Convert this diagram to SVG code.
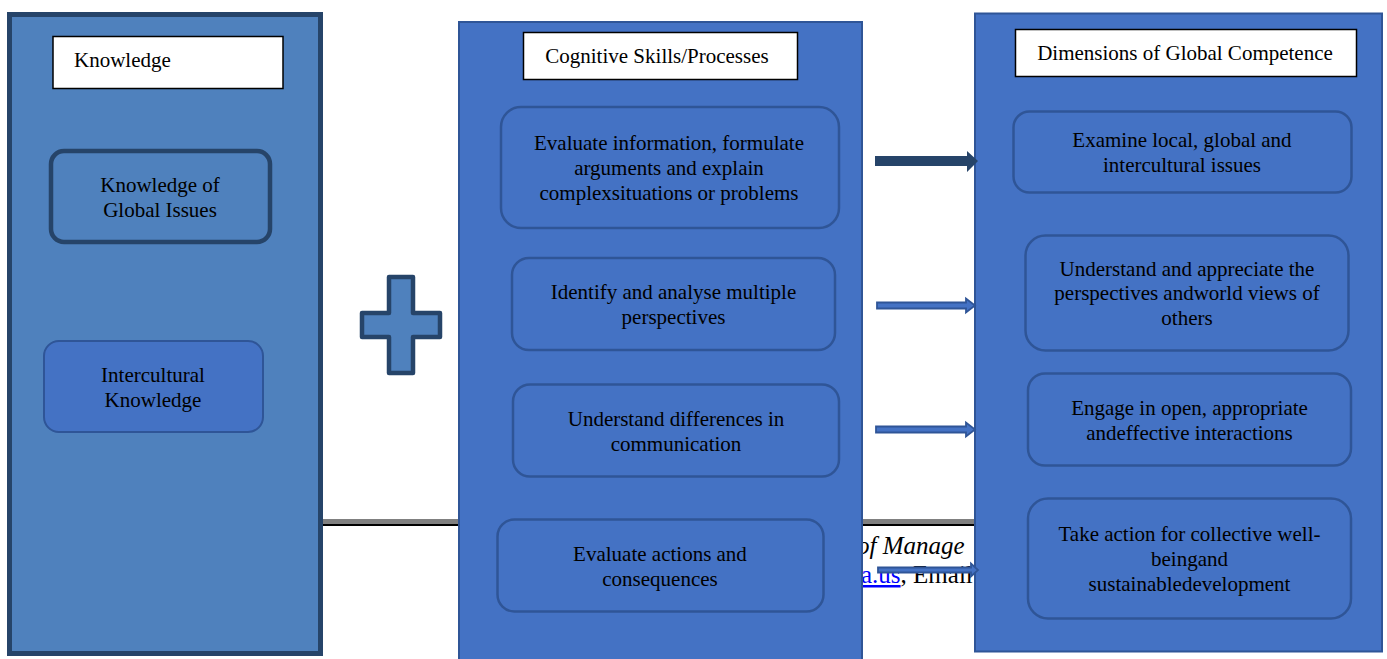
<svg xmlns="http://www.w3.org/2000/svg" width="1387" height="659" viewBox="0 0 1387 659">
<style>
text{font-family:"Liberation Serif","Times New Roman",serif;font-size:21px;fill:#000;}
.c{text-anchor:middle;}
.panel{fill:#4472c4;stroke:#2f5597;stroke-width:2;}
.box{fill:#4472c4;stroke:#2f5597;stroke-width:2.5;}
.hdr{fill:#fff;stroke:#000;stroke-width:1.5;}
.bg{font-size:25px;}
.thin{fill:#4472c4;stroke:#2f5597;stroke-width:1.8;stroke-linejoin:miter;}
</style>
<rect width="1387" height="659" fill="#fff"/>
<g id="background">
<rect x="320" y="519" width="660" height="5" fill="#808080"/>
<rect x="320" y="524" width="660" height="2" fill="#000"/>
<text class="bg" x="857" y="554" font-style="italic" font-size="26.5">of Manage</text>
<text class="bg" x="861" y="583"><tspan fill="#0000ff" text-decoration="underline">a.us</tspan>, Email</text>
</g>
<g id="knowledge-panel">
<rect x="9.5" y="14.5" width="311" height="639" fill="#4f81bd" stroke="#264469" stroke-width="5"/>
<rect class="hdr" x="53" y="36.5" width="230" height="52"/>
<text x="74" y="67">Knowledge</text>
</g>
<g id="global-issues">
<rect x="51" y="151" width="219" height="91" rx="13" fill="#4f81bd" stroke="#264469" stroke-width="4.5"/>
<text class="c" x="160" y="192">Knowledge of</text>
<text class="c" x="160" y="217">Global Issues</text>
</g>
<g id="intercultural-knowledge">
<rect x="44" y="341" width="219" height="91" rx="15" fill="#4472c4" stroke="#2f5597" stroke-width="2"/>
<text class="c" x="153" y="382">Intercultural</text>
<text class="c" x="153" y="407">Knowledge</text>
</g>
<g id="plus">
<path d="M389,277 H413 V313 H440 V337 H413 V373 H389 V337 H362 V313 H389 Z" fill="#4f81bd" stroke="#264469" stroke-width="4.5" stroke-linejoin="round"/>
</g>
<g id="cognitive-panel">
<rect class="panel" x="459" y="22" width="403" height="645"/>
<rect class="hdr" x="523.5" y="32.5" width="274" height="47"/>
<text class="c" x="657" y="63">Cognitive Skills/Processes</text>
</g>
<g id="cog-1">
<rect class="box" x="501" y="107" width="338" height="121" rx="20"/>
<text class="c" x="669" y="150">Evaluate information, formulate</text>
<text class="c" x="669" y="175">arguments and explain</text>
<text class="c" x="669" y="200">complexsituations or problems</text>
</g>
<g id="cog-2">
<rect class="box" x="512" y="258" width="323" height="92" rx="17"/>
<text class="c" x="673.5" y="299">Identify and analyse multiple</text>
<text class="c" x="673.5" y="324">perspectives</text>
</g>
<g id="cog-3">
<rect class="box" x="513" y="384.5" width="326" height="92" rx="17"/>
<text class="c" x="676" y="426">Understand differences in</text>
<text class="c" x="676" y="451">communication</text>
</g>
<g id="cog-4">
<rect class="box" x="497.5" y="519.5" width="326" height="92" rx="17"/>
<text class="c" x="660" y="561">Evaluate actions and</text>
<text class="c" x="660" y="586">consequences</text>
</g>
<g id="dimensions-panel">
<rect class="panel" x="975" y="13.5" width="407" height="638"/>
<rect class="hdr" x="1015.5" y="29.5" width="341" height="47"/>
<text class="c" x="1185" y="60">Dimensions of Global Competence</text>
</g>
<g id="dim-1">
<rect class="box" x="1013.5" y="111.5" width="338" height="81" rx="16"/>
<text class="c" x="1182" y="147">Examine local, global and</text>
<text class="c" x="1182" y="172">intercultural issues</text>
</g>
<g id="dim-2">
<rect class="box" x="1025.5" y="235.5" width="323" height="115" rx="20"/>
<text class="c" x="1187" y="276">Understand and appreciate the</text>
<text class="c" x="1187" y="300">perspectives andworld views of</text>
<text class="c" x="1187" y="325">others</text>
</g>
<g id="dim-3">
<rect class="box" x="1028" y="373.5" width="323" height="92" rx="17"/>
<text class="c" x="1189.5" y="415">Engage in open, appropriate</text>
<text class="c" x="1189.5" y="440">andeffective interactions</text>
</g>
<g id="dim-4">
<rect class="box" x="1028" y="498.5" width="323" height="120" rx="20"/>
<text class="c" x="1189.5" y="541">Take action for collective well-</text>
<text class="c" x="1189.5" y="566">beingand</text>
<text class="c" x="1189.5" y="591">sustainabledevelopment</text>
</g>
<g id="connectors">
<polygon points="875,156 967,156 967,151 978,161 967,172 967,166 875,166" fill="#264469"/>
<polygon class="thin" points="877,302.5 966,302.5 966,298.5 975,305.5 966,312.5 966,308.5 877,308.5"/>
<polygon class="thin" points="876,426.5 966,426.5 966,422.5 975,429.5 966,436.5 966,432.5 876,432.5"/>
<polygon class="thin" points="878,567.5 971,567.5 971,563.5 978,570 971,576.5 971,572.5 878,572.5"/>
</g>
</svg>
